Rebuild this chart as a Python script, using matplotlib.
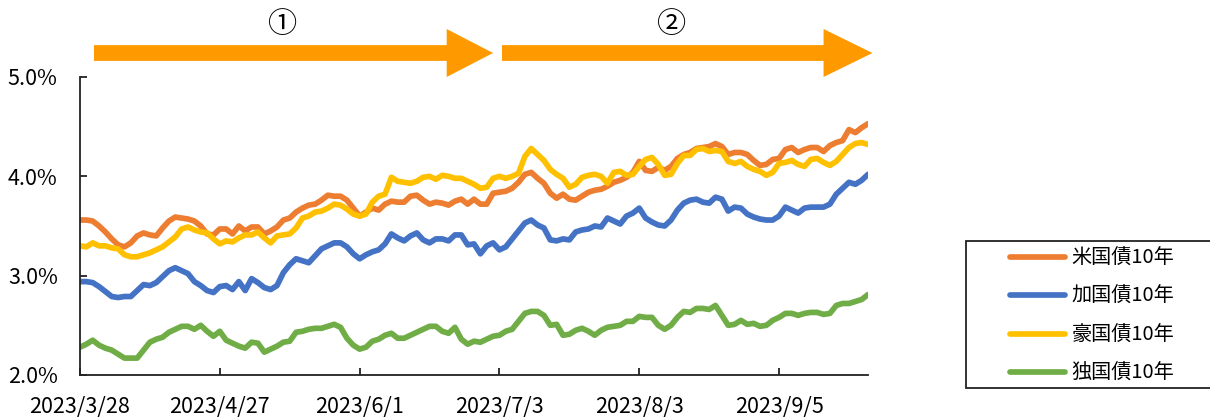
# 10-year government bond yields, Mar-Sep 2023
import numpy as np
import matplotlib
matplotlib.use("Agg")
import matplotlib.pyplot as plt
from matplotlib.patches import Polygon, Rectangle
from matplotlib.ticker import FuncFormatter

plt.rcParams['font.family'] = ['Noto Sans CJK JP', 'DejaVu Sans']

# Data (yield, %), one value per business day
tick_labels = ["2023/3/28", "2023/4/27", "2023/6/1", "2023/7/3", "2023/8/3", "2023/9/5"]
tick_step = 22

series_names = ["米国債10年", "加国債10年", "豪国債10年", "独国債10年"]
series_colors = ["#ED7D31", "#4472C4", "#FFC000", "#70AD47"]

us_10y = [3.56, 3.56, 3.55, 3.50, 3.44, 3.37, 3.31, 3.29, 3.33, 3.40,
          3.43, 3.41, 3.40, 3.48, 3.55, 3.59, 3.58, 3.57, 3.55, 3.50,
          3.42, 3.41, 3.47, 3.47, 3.42, 3.50, 3.45, 3.49, 3.49, 3.42,
          3.45, 3.49, 3.56, 3.58, 3.64, 3.68, 3.71, 3.72, 3.76, 3.81,
          3.80, 3.80, 3.76, 3.68, 3.60, 3.64, 3.68, 3.66, 3.72, 3.75,
          3.74, 3.74, 3.80, 3.81, 3.76, 3.72, 3.74, 3.73, 3.71, 3.75,
          3.77, 3.72, 3.77, 3.72, 3.72, 3.83, 3.84, 3.85, 3.88, 3.94,
          4.02, 4.04, 3.98, 3.93, 3.83, 3.78, 3.82, 3.77, 3.76, 3.80,
          3.84, 3.86, 3.87, 3.90, 3.94, 3.96, 3.99, 4.04, 4.15, 4.06,
          4.05, 4.09, 4.06, 4.10, 4.18, 4.22, 4.24, 4.28, 4.29, 4.30,
          4.33, 4.30, 4.22, 4.24, 4.24, 4.22, 4.16, 4.11, 4.12, 4.17,
          4.18, 4.27, 4.29, 4.24, 4.27, 4.29, 4.29, 4.25, 4.31, 4.34,
          4.36, 4.47, 4.44, 4.49, 4.53]

ca_10y = [2.94, 2.94, 2.93, 2.89, 2.84, 2.79, 2.78, 2.79, 2.79, 2.85,
          2.91, 2.90, 2.93, 2.99, 3.05, 3.08, 3.05, 3.02, 2.94, 2.90,
          2.85, 2.83, 2.89, 2.90, 2.86, 2.94, 2.85, 2.97, 2.93, 2.88,
          2.86, 2.90, 3.03, 3.11, 3.17, 3.15, 3.13, 3.20, 3.27, 3.30,
          3.33, 3.33, 3.29, 3.22, 3.17, 3.21, 3.24, 3.26, 3.32, 3.42,
          3.38, 3.35, 3.40, 3.43, 3.36, 3.33, 3.37, 3.37, 3.35, 3.41,
          3.41, 3.31, 3.32, 3.22, 3.30, 3.33, 3.26, 3.29, 3.37, 3.45,
          3.53, 3.56, 3.51, 3.48, 3.36, 3.35, 3.37, 3.36, 3.44, 3.46,
          3.47, 3.50, 3.49, 3.58, 3.55, 3.52, 3.60, 3.63, 3.68, 3.58,
          3.54, 3.51, 3.50, 3.56, 3.66, 3.73, 3.76, 3.77, 3.74, 3.73,
          3.79, 3.77, 3.65, 3.69, 3.68, 3.62, 3.59, 3.57, 3.56, 3.56,
          3.60, 3.69, 3.66, 3.63, 3.68, 3.69, 3.69, 3.69, 3.72, 3.82,
          3.88, 3.94, 3.92, 3.96, 4.02]

au_10y = [3.30, 3.29, 3.33, 3.30, 3.30, 3.28, 3.27, 3.21, 3.19, 3.19,
          3.21, 3.23, 3.26, 3.29, 3.34, 3.39, 3.47, 3.49, 3.46, 3.44,
          3.43, 3.37, 3.32, 3.35, 3.34, 3.38, 3.41, 3.41, 3.44, 3.38,
          3.33, 3.40, 3.41, 3.42, 3.48, 3.58, 3.60, 3.64, 3.65, 3.68,
          3.72, 3.71, 3.67, 3.62, 3.60, 3.62, 3.74, 3.80, 3.82, 3.99,
          3.95, 3.94, 3.93, 3.95, 3.99, 4.00, 3.97, 4.01, 4.00, 3.98,
          3.98, 3.95, 3.92, 3.88, 3.89, 3.98, 4.00, 3.98, 4.00, 4.03,
          4.20, 4.28, 4.22, 4.16, 4.07, 4.02, 3.98, 3.89, 3.92, 3.99,
          4.01, 4.02, 4.00, 3.93, 4.04, 4.05, 4.01, 4.02, 4.10, 4.17,
          4.19, 4.12, 4.01, 4.02, 4.13, 4.21, 4.21, 4.27, 4.28, 4.25,
          4.26, 4.25, 4.15, 4.13, 4.15, 4.10, 4.07, 4.05, 4.01, 4.04,
          4.13, 4.14, 4.16, 4.12, 4.10, 4.17, 4.18, 4.14, 4.11, 4.15,
          4.22, 4.29, 4.33, 4.34, 4.32]

de_10y = [2.28, 2.31, 2.35, 2.30, 2.27, 2.25, 2.21, 2.17, 2.17, 2.17,
          2.25, 2.33, 2.36, 2.38, 2.43, 2.46, 2.49, 2.49, 2.46, 2.50,
          2.44, 2.39, 2.44, 2.35, 2.32, 2.29, 2.27, 2.33, 2.32, 2.23,
          2.26, 2.29, 2.33, 2.34, 2.43, 2.44, 2.46, 2.47, 2.47, 2.49,
          2.51, 2.48, 2.37, 2.30, 2.26, 2.28, 2.34, 2.36, 2.40, 2.42,
          2.37, 2.37, 2.40, 2.43, 2.46, 2.49, 2.49, 2.44, 2.42, 2.48,
          2.36, 2.31, 2.34, 2.33, 2.36, 2.39, 2.40, 2.44, 2.46, 2.54,
          2.62, 2.64, 2.64, 2.60, 2.50, 2.51, 2.40, 2.41, 2.45, 2.47,
          2.44, 2.40, 2.45, 2.48, 2.49, 2.50, 2.54, 2.54, 2.59, 2.58,
          2.58, 2.50, 2.46, 2.50, 2.58, 2.64, 2.63, 2.67, 2.67, 2.66,
          2.70, 2.60, 2.50, 2.51, 2.55, 2.51, 2.52, 2.49, 2.50, 2.55,
          2.58, 2.62, 2.62, 2.60, 2.62, 2.63, 2.63, 2.61, 2.62, 2.70,
          2.72, 2.72, 2.74, 2.76, 2.81]

arrow_color = "#FF9900"


def draw_arrow(ax, x_start, x_end, head_len):
    """Block arrow above the plot (x in data units, y in axes fraction)."""
    body_lo, body_hi = 1.054, 1.107
    head_lo, head_hi = 1.0, 1.161
    y_mid = (body_lo + body_hi) / 2
    xb = x_end - head_len
    pts = [(x_start, body_lo), (xb, body_lo), (xb, head_lo), (x_end, y_mid),
           (xb, head_hi), (xb, body_hi), (x_start, body_hi)]
    ax.add_patch(Polygon(pts, closed=True, facecolor=arrow_color, edgecolor="none",
                         transform=ax.get_xaxis_transform(), clip_on=False))


def main():
    fig = plt.figure(figsize=(12.1, 4.18), dpi=100)
    ax = fig.add_axes([0.0661, 0.1029, 0.6513, 0.7129])

    x = np.arange(len(us_10y))
    for name, color, values in zip(series_names, series_colors,
                                   [us_10y, ca_10y, au_10y, de_10y]):
        ax.plot(x, values, color=color, lw=4.1, label=name,
                solid_joinstyle="round", solid_capstyle="round")

    ax.set_xlim(0, len(us_10y) - 1)
    ax.set_ylim(2.0, 5.0)
    ax.set_yticks([2.0, 3.0, 4.0, 5.0])
    ax.yaxis.set_major_formatter(FuncFormatter(lambda v, p: f"{v:.1f}%"))
    ax.set_xticks(np.arange(len(tick_labels)) * tick_step)
    ax.set_xticklabels(tick_labels)

    for side in ["top", "right"]:
        ax.spines[side].set_visible(False)
    for side in ["left", "bottom"]:
        ax.spines[side].set_linewidth(1.3)
        ax.spines[side].set_color("#222222")
    ax.tick_params(axis="both", direction="in", length=5, width=1.3,
                   labelsize=15.5, colors="#222222", labelcolor="black")
    ax.tick_params(axis="y", pad=16)
    ax.tick_params(axis="x", pad=15)

    # period arrows with labels
    draw_arrow(ax, 2.2, 65.0, 7.3)
    draw_arrow(ax, 66.4, 124.7, 7.7)
    ax.text(31.9, 1.176, "①", transform=ax.get_xaxis_transform(),
            ha="center", va="center", fontsize=21)
    ax.text(93.1, 1.176, "②", transform=ax.get_xaxis_transform(),
            ha="center", va="center", fontsize=21)

    # legend with a separate box that runs off the right edge
    fig.add_artist(Rectangle((966 / 1210, 1 - 388 / 418), 250 / 1210, 147 / 418,
                             transform=fig.transFigure, facecolor="white",
                             edgecolor="#222222", lw=1.3))
    fig.legend(loc="center left", bbox_to_anchor=(1010 / 1210, 1 - 316 / 418),
               frameon=False, fontsize=14.5, handlelength=2.75, handletextpad=0.3,
               labelspacing=0.86, borderpad=0, borderaxespad=0)

    fig.savefig("out.png", dpi=100)


if __name__ == "__main__":
    main()
